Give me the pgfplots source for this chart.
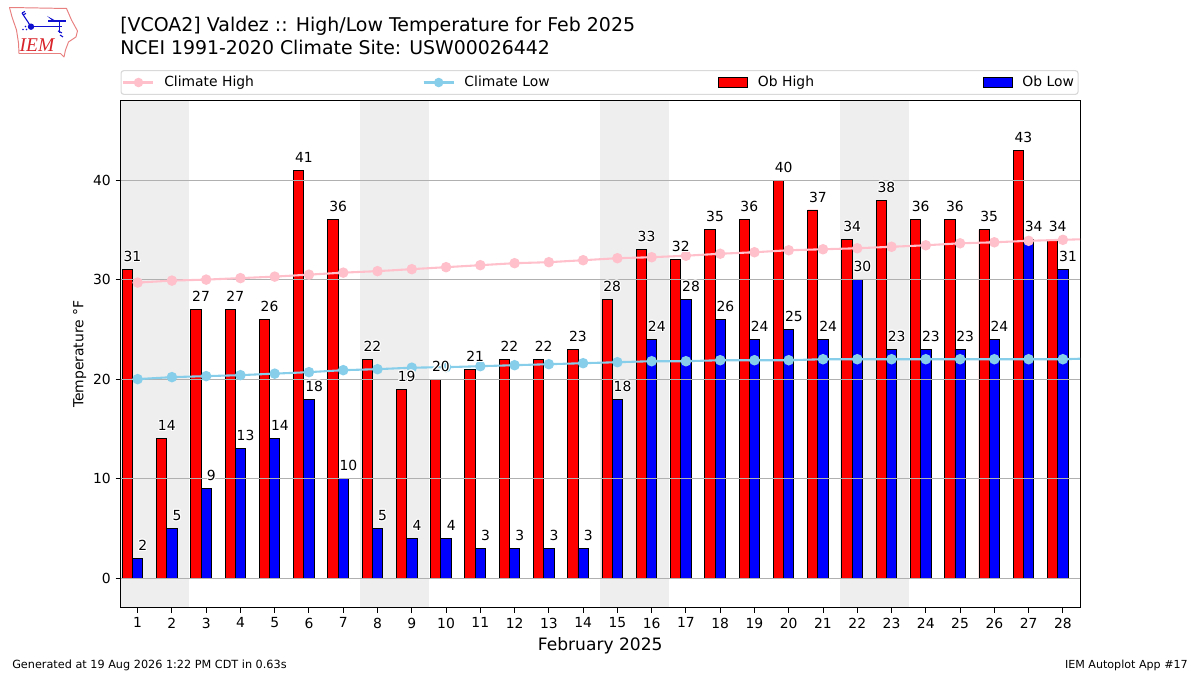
\documentclass[border=0pt]{standalone}
\usepackage{fontspec}
\setmainfont{DejaVu Sans}
\newfontfamily\logofont{Liberation Serif}
\usepackage{pgfplots}
\usepackage{pgfplotstable}
\usepackage{contour}
\pgfplotsset{compat=1.18}
\contourlength{0.7pt}

\definecolor{climhigh}{HTML}{FFC0CB}
\definecolor{climlow}{HTML}{87CEEB}
\definecolor{shade}{HTML}{EEEEEE}
\definecolor{gridgray}{HTML}{B0B0B0}
\definecolor{legedge}{HTML}{D9D9D9}
\definecolor{logored}{HTML}{E88080}
\definecolor{logotext}{HTML}{D8232A}
\definecolor{logoblue}{HTML}{1010D0}

\pgfplotstableread{
day high low
1 31 2
2 14 5
3 27 9
4 27 13
5 26 14
6 41 18
7 36 10
8 22 5
9 19 4
10 20 4
11 21 3
12 22 3
13 22 3
14 23 3
15 28 18
16 33 24
17 32 28
18 35 26
19 36 24
20 40 25
21 37 24
22 34 30
23 38 23
24 36 23
25 36 23
26 35 24
27 43 34
28 34 31
}\obs

% day 29 only carries the lines out to the frame
\pgfplotstableread{
day chigh clow
1 29.7 20.0
2 29.9 20.2
3 30.0 20.3
4 30.15 20.4
5 30.3 20.55
6 30.5 20.7
7 30.7 20.9
8 30.85 21.0
9 31.05 21.15
10 31.25 21.2
11 31.45 21.3
12 31.65 21.4
13 31.75 21.5
14 31.95 21.6
15 32.15 21.7
16 32.25 21.8
17 32.4 21.8
18 32.6 21.9
19 32.75 21.9
20 32.95 21.9
21 33.05 22.0
22 33.15 22.0
23 33.3 22.0
24 33.45 22.0
25 33.65 22.0
26 33.75 22.0
27 33.9 22.0
28 34.0 22.0
29 34.1 22.1
}\clim

\pgfplotsset{
  frame/.style={
    scale only axis, width=690.84pt, height=365.4pt,
    at={(86.76pt,48.24pt)}, anchor=south west,
    xmin=0.5, xmax=28.5, ymin=-3, ymax=48,
    /pgf/number format/assume math mode=true,
  },
  lab/.style={
    draw=none, mark=none, forget plot,
    point meta=y,
    nodes near coords={\contour{white}{\pgfmathprintnumber{\pgfplotspointmeta}}},
    every node near coord/.append style={font=\fontsize{10}{12}\selectfont,
      anchor=center, yshift=9pt, xshift=3.7pt, inner sep=0pt},
  },
}

\begin{document}
\begin{tikzpicture}
  \path[use as bounding box] (0,0) rectangle (864pt,486pt);

  \begin{axis}[
      frame, axis on top,
      axis line style={line width=0.72pt},
      ymajorgrids,
      major grid style={draw=gridgray, line width=0.72pt},
      xtick={1,...,28}, ytick={0,10,20,30,40},
      tick align=outside, xtick pos=bottom, ytick pos=left,
      major tick length=3.5pt,
      tick style={black, line width=0.72pt},
      tick label style={font=\fontsize{10}{12}\selectfont},
      ylabel={Temperature °F},
      ylabel shift=-2pt,
      ylabel style={font=\fontsize{10}{12}\selectfont},
      xlabel={February 2025},
      xlabel style={font=\fontsize{12.3}{15}\selectfont},
    ]
    \addplot[fill=shade, draw=none, forget plot] coordinates {(0.5,-3) (2.5,-3) (2.5,48) (0.5,48)} -- cycle;
    \addplot[fill=shade, draw=none, forget plot] coordinates {(7.5,-3) (9.5,-3) (9.5,48) (7.5,48)} -- cycle;
    \addplot[fill=shade, draw=none, forget plot] coordinates {(14.5,-3) (16.5,-3) (16.5,48) (14.5,48)} -- cycle;
    \addplot[fill=shade, draw=none, forget plot] coordinates {(21.5,-3) (23.5,-3) (23.5,48) (21.5,48)} -- cycle;
    \addplot[ybar, bar width=0.3, bar shift=-0.3, fill=red, draw=black, line width=0.6pt] table[x=day, y=high] {\obs};
    \addplot[ybar, bar width=0.3, bar shift=0, fill=blue, draw=black, line width=0.6pt] table[x=day, y=low] {\obs};
  \end{axis}

  % second axis so the climate lines and value labels sit above the grid
  \begin{axis}[
      frame, hide axis,
      legend columns=4,
      legend cell align=left,
      legend style={
        at={(axis description cs:0,1)}, anchor=south west, yshift=4pt,
        draw=legedge, line width=0.8pt, rounded corners=2pt,
        font=\fontsize{10}{12}\selectfont,
        inner xsep=1pt, inner ysep=2pt,
        /tikz/every odd column/.append style={column sep=5pt},
        /tikz/every even column/.append style={column sep=119.4pt},
      },
    ]
    \addlegendimage{legend image code/.code={
      \draw[climhigh, line width=1.5pt, sharp corners] (0pt,0pt) -- (21.6pt,0pt);
      \fill[climhigh, sharp corners] (10.8pt,0pt) circle (3pt);}}
    \addlegendentry{Climate High}
    \addlegendimage{legend image code/.code={
      \draw[climlow, line width=1.5pt, sharp corners] (0pt,0pt) -- (21.6pt,0pt);
      \fill[climlow, sharp corners] (10.8pt,0pt) circle (3pt);}}
    \addlegendentry{Climate Low}
    \addlegendimage{legend image code/.code={
      \draw[black, fill=red, line width=0.6pt, sharp corners] (0pt,-3.5pt) rectangle (21pt,3.5pt);}}
    \addlegendentry{Ob High}
    \addlegendimage{legend image code/.code={
      \draw[black, fill=blue, line width=0.6pt, sharp corners] (0pt,-3.5pt) rectangle (21pt,3.5pt);}}
    \addlegendentry{Ob Low\hspace{1.5pt}}

    \addplot[climhigh, line width=1.5pt, mark=*, mark size=3pt, mark options={climhigh}, forget plot] table[x=day, y=chigh] {\clim};
    \addplot[climlow, line width=1.5pt, mark=*, mark size=3pt, mark options={climlow}, forget plot] table[x=day, y=clow] {\clim};

    \addplot[lab] table[x expr=\thisrow{day}-0.3, y=high] {\obs};
    \addplot[lab] table[x=day, y=low] {\obs};
  \end{axis}

  % everything below is placed in reference pixels, origin top left
  \begin{scope}[shift={(0pt,486pt)}, x=0.72pt, y=-0.72pt]
    \node[anchor=base west, inner sep=0pt, font=\fontsize{13.65}{16}\selectfont] at (120,32) {[VCOA2] Valdez :: High/Low Temperature for Feb 2025};
    \node[anchor=base west, inner sep=0pt, font=\fontsize{13.6}{16}\selectfont] at (120,55) {NCEI 1991-2020 Climate Site: USW00026442};
    \node[anchor=base west, inner sep=0pt, font=\fontsize{8.1}{10}\selectfont] at (12,669) {Generated at 19 Aug 2026 1:22 PM CDT in 0.63s};
    \node[anchor=base east, inner sep=0pt, font=\fontsize{8}{10}\selectfont] at (1188,669) {IEM Autoplot App \#17};

    % logo
    \draw[logored, line width=0.7pt, line join=round] (9.5,7.5) -- (66.5,8.5) -- (71.5,20) -- (77.5,31) -- (76,37) -- (68.5,42) -- (65.5,50) -- (64,57) -- (60.5,53.5) -- (19,53.5) -- (18.5,43) -- (16.5,30) -- (12,17) -- cycle;
    \draw[logoblue, line width=1pt] (31,26.7) -- (62,26.7) (48,21) -- (66,21) (59.5,21) -- (59.5,33);
    \draw[logoblue, line width=0.8pt] (31,26.7) -- (22,13) (22,13) -- (25,11.5) (23,15) -- (26,13.5);
    \fill[logoblue] (31,26.7) circle (3.2);
    \fill[logoblue] (47,16) -- (58,22) -- (54,22) -- cycle;
    \fill[logoblue] (23,29.5) circle (0.9) (25.5,26.5) circle (0.9) (26.5,29.5) circle (0.9);
    \draw[logoblue, line width=0.8pt] (58,31) -- (62,33) (60,35) -- (63,37);
    \node[anchor=base, inner sep=0pt, text=logotext, font=\logofont\itshape\fontsize{14}{16}\selectfont] at (37,51.5) {IEM};
  \end{scope}
\end{tikzpicture}
\end{document}
